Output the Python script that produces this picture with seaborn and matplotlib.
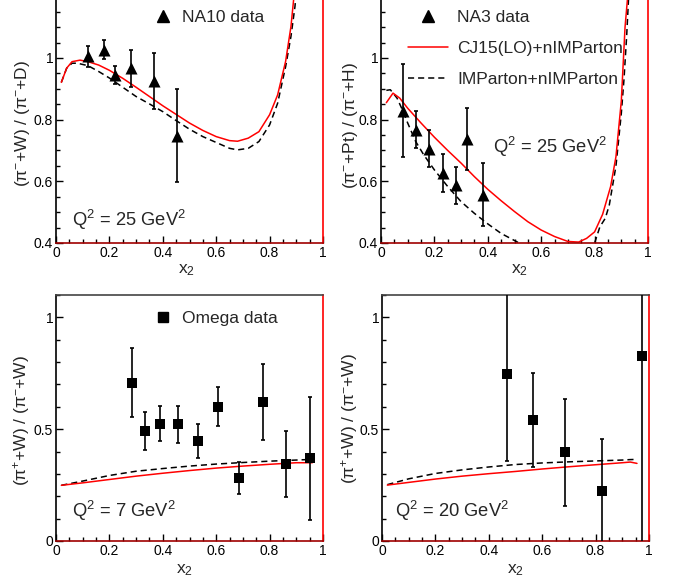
import numpy as np
import pandas as pd
import matplotlib
matplotlib.use("Agg")
import matplotlib.pyplot as plt
from matplotlib.ticker import MultipleLocator, FormatStrFormatter
from matplotlib.lines import Line2D
import seaborn as sns

# ---------------- data ----------------
# NA10: pi- W / pi- D
na10_x = [0.121, 0.181, 0.221, 0.281, 0.368, 0.453]
na10_y = [1.005, 1.027, 0.945, 0.967, 0.926, 0.748]
na10_err = [0.035, 0.030, 0.030, 0.060, 0.090, 0.150]

# NA3: pi- Pt / pi- H
na3_x = [0.081, 0.131, 0.180, 0.231, 0.281, 0.322, 0.383]
na3_y = [0.829, 0.767, 0.705, 0.626, 0.587, 0.737, 0.557]
na3_err = [0.150, 0.060, 0.060, 0.062, 0.060, 0.100, 0.102]

# Omega: pi+ W / pi- W at Q^2 = 7 and 20 GeV^2
om7_x = [0.286, 0.335, 0.391, 0.458, 0.531, 0.608, 0.687, 0.774, 0.861, 0.951]
om7_y = [0.708, 0.491, 0.525, 0.521, 0.445, 0.600, 0.280, 0.622, 0.345, 0.369]
om7_err = [0.153, 0.086, 0.078, 0.082, 0.076, 0.088, 0.072, 0.170, 0.147, 0.275]

om20_x = [0.467, 0.566, 0.687, 0.823, 0.974]
om20_y = [0.747, 0.540, 0.396, 0.222, 0.829]
om20_err = [0.390, 0.210, 0.240, 0.235, 1.000]

# model curves: CJ15(LO)+nIMParton (red) and IMParton+nIMParton (dashed)
c1_x = [0.02, 0.04, 0.06, 0.09, 0.12, 0.16, 0.20, 0.25, 0.30, 0.35, 0.40, 0.45,
        0.50, 0.55, 0.60, 0.65, 0.68, 0.72, 0.76, 0.80, 0.83, 0.86, 0.88, 0.89, 0.90]
c1_red = [0.921, 0.967, 0.988, 0.993, 0.988, 0.977, 0.960, 0.934, 0.905, 0.875, 0.845, 0.817,
          0.789, 0.765, 0.745, 0.732, 0.730, 0.740, 0.761, 0.816, 0.880, 0.989, 1.102, 1.189, 1.300]
d1_x = [0.02, 0.04, 0.06, 0.08, 0.12, 0.16, 0.20, 0.25, 0.30, 0.35, 0.40, 0.45,
        0.50, 0.55, 0.60, 0.65, 0.68, 0.72, 0.76, 0.80, 0.83, 0.86, 0.88, 0.895, 0.905]
d1_blk = [0.921, 0.967, 0.983, 0.983, 0.975, 0.956, 0.935, 0.905, 0.875, 0.851, 0.826, 0.797,
          0.769, 0.745, 0.726, 0.707, 0.702, 0.707, 0.729, 0.783, 0.853, 0.972, 1.070, 1.167, 1.260]

c2_x = [0.02, 0.045, 0.07, 0.10, 0.15, 0.20, 0.25, 0.30, 0.35, 0.40, 0.45, 0.50, 0.55,
        0.60, 0.65, 0.70, 0.74, 0.77, 0.80, 0.83, 0.86, 0.88, 0.90, 0.914, 0.923, 0.935]
c2_red = [0.855, 0.886, 0.870, 0.837, 0.789, 0.743, 0.700, 0.659, 0.615, 0.574, 0.537, 0.502, 0.469,
          0.442, 0.421, 0.405, 0.403, 0.415, 0.436, 0.493, 0.583, 0.680, 0.860, 1.100, 1.190, 1.300]
d2_x = [0.02, 0.035, 0.06, 0.08, 0.10, 0.13, 0.16, 0.20, 0.25, 0.30, 0.35, 0.40, 0.45, 0.50,
        0.55, 0.60, 0.65, 0.70, 0.75, 0.80, 0.82, 0.84, 0.855, 0.88, 0.90, 0.91, 0.92, 0.927, 0.94]
d2_blk = [0.895, 0.897, 0.870, 0.832, 0.789, 0.729, 0.686, 0.637, 0.583, 0.534, 0.496, 0.462, 0.431, 0.408,
          0.385, 0.365, 0.352, 0.350, 0.365, 0.400, 0.453, 0.480, 0.523, 0.650, 0.820, 0.930, 1.070, 1.190, 1.350]

c3_x = [0.02, 0.10, 0.20, 0.30, 0.40, 0.50, 0.60, 0.70, 0.80, 0.90, 0.96]
c3_red = [0.249, 0.260, 0.275, 0.290, 0.303, 0.315, 0.326, 0.335, 0.343, 0.350, 0.350]
c3_blk = [0.249, 0.268, 0.293, 0.312, 0.324, 0.335, 0.344, 0.351, 0.357, 0.362, 0.365]

c4_x = [0.02, 0.10, 0.20, 0.30, 0.40, 0.50, 0.60, 0.70, 0.80, 0.90, 0.93, 0.955]
c4_red = [0.250, 0.262, 0.277, 0.290, 0.301, 0.311, 0.322, 0.332, 0.341, 0.350, 0.353, 0.347]
c4_blk = [0.252, 0.278, 0.302, 0.318, 0.331, 0.342, 0.349, 0.354, 0.358, 0.362, 0.364, 0.365]

x_ticks = [0, 0.2, 0.4, 0.6, 0.8, 1]

# ---------------- style ----------------
sns.set_theme(style="ticks")
plt.rcParams["font.family"] = ["Liberation Sans", "DejaVu Sans"]
plt.rcParams["mathtext.fontset"] = "custom"
plt.rcParams["mathtext.rm"] = "Liberation Sans"
plt.rcParams["mathtext.it"] = "Liberation Sans"
plt.rcParams["mathtext.default"] = "rm"

RED = "#ff0000"
DASH = (0, (4.0, 2.6))
LBL = 12.5
TCK = 10.0

fig = plt.figure(figsize=(6.81, 5.83), dpi=100)
W, H = 681.0, 583.0


def make_ax(left_px, top_px, bottom_px, right_px):
    return fig.add_axes([left_px / W, 1 - bottom_px / H,
                         (right_px - left_px) / W, (bottom_px - top_px) / H])


ax1 = make_ax(56, 0, 243, 323)
ax2 = make_ax(381, 0, 243, 648)
ax3 = make_ax(56, 295, 541, 323)
ax4 = make_ax(382, 295, 541, 649)


def style_axes(ax, ylim, ymajor, yminor, top_visible):
    ax.set_xlim(0, 1)
    ax.set_ylim(*ylim)
    ax.set_xticks(x_ticks)
    ax.xaxis.set_minor_locator(MultipleLocator(0.05))
    ax.yaxis.set_major_locator(MultipleLocator(ymajor))
    ax.yaxis.set_minor_locator(MultipleLocator(yminor))
    ax.xaxis.set_major_formatter(FormatStrFormatter("%g"))
    ax.yaxis.set_major_formatter(FormatStrFormatter("%g"))
    ax.tick_params(which="both", direction="in", top=False, right=False,
                   colors="black", width=1.0, labelsize=TCK)
    ax.tick_params(which="major", length=5)
    ax.tick_params(which="minor", length=2.6)
    ax.tick_params(axis="x", which="major", pad=2.5)
    ax.tick_params(axis="y", which="major", pad=2.0)
    for s in ax.spines.values():
        s.set_linewidth(1.2)
    ax.spines["left"].set_color("black")
    ax.spines["bottom"].set_color("#a00000")
    ax.spines["right"].set_color(RED)
    ax.spines["right"].set_visible(True)
    ax.spines["top"].set_visible(top_visible)
    ax.spines["top"].set_color("#444444")
    ax.set_facecolor("white")


style_axes(ax1, (0.4, 1.188), 0.2, 0.05, False)
style_axes(ax2, (0.4, 1.188), 0.2, 0.05, False)
style_axes(ax3, (0.0, 1.1), 0.5, 0.1, True)
style_axes(ax4, (0.0, 1.1), 0.5, 0.1, True)


def curves(ax, xr, yr, xb, yb):
    sns.lineplot(data=pd.DataFrame({"x": xb, "y": yb}), x="x", y="y", ax=ax,
                 color="black", linewidth=1.1, linestyle=DASH, sort=False,
                 estimator=None, legend=False)
    sns.lineplot(data=pd.DataFrame({"x": xr, "y": yr}), x="x", y="y", ax=ax,
                 color=RED, linewidth=1.1, sort=False, estimator=None, legend=False)


def points(ax, x, y, err, marker, size):
    ax.errorbar(x, y, yerr=err, fmt="none", ecolor="black", elinewidth=1.2,
                capsize=1.6, capthick=1.2, zorder=3)
    sns.scatterplot(x=x, y=y, ax=ax, marker=marker, s=size, color="black",
                    edgecolor="black", linewidth=0, zorder=4, legend=False)


curves(ax1, c1_x, c1_red, d1_x, d1_blk)
points(ax1, na10_x, na10_y, na10_err, "^", 75)

curves(ax2, c2_x, c2_red, d2_x, d2_blk)
points(ax2, na3_x, na3_y, na3_err, "^", 75)

curves(ax3, c3_x, c3_red, c3_x, c3_blk)
points(ax3, om7_x, om7_y, om7_err, "s", 46)

curves(ax4, c4_x, c4_red, c4_x, c4_blk)
points(ax4, om20_x, om20_y, om20_err, "s", 46)

# axis titles
ylabels = [
    (ax1, "(π$^{-}$+W) / (π$^{-}$+D)", -0.090, 0.753),
    (ax2, "(π$^{-}$+Pt) / (π$^{-}$+H)", -0.079, 0.745),
    (ax3, "(π$^{+}$+W) / (π$^{-}$+W)", -0.090, 0.756),
    (ax4, "(π$^{+}$+W) / (π$^{-}$+W)", -0.082, 0.764),
]
for ax, txt, lx, ly in ylabels:
    ax.set_ylabel(txt, fontsize=LBL, loc="top")
    ax.yaxis.set_label_coords(lx, ly)

xlabels = [(ax1, 0.49, -0.078), (ax2, 0.52, -0.078), (ax3, 0.483, -0.085), (ax4, 0.50, -0.085)]
for ax, lx, ly in xlabels:
    ax.set_xlabel("x$_{2}$", fontsize=LBL)
    ax.xaxis.set_label_coords(lx, ly)

# Q^2 annotations
for ax, txt, tx, ty in [(ax1, "Q$^{2}$ = 25 GeV$^{2}$", 0.060, 0.070),
                        (ax2, "Q$^{2}$ = 25 GeV$^{2}$", 0.419, 0.370),
                        (ax3, "Q$^{2}$ = 7 GeV$^{2}$", 0.060, 0.098),
                        (ax4, "Q$^{2}$ = 20 GeV$^{2}$", 0.049, 0.098)]:
    ax.text(tx, ty, txt, transform=ax.transAxes, fontsize=13.2,
            ha="left", va="baseline")

# legends
tri = Line2D([], [], color="black", marker="^", markersize=8.5, linestyle="none")
sq = Line2D([], [], color="black", marker="s", markersize=6.8, linestyle="none")
red_line = Line2D([], [], color=RED, linewidth=1.1)
dash_line = Line2D([], [], color="black", linewidth=1.1, linestyle=DASH)

ax1.legend([tri], ["NA10 data"], loc="center left", bbox_to_anchor=(0.362, 0.930),
           frameon=False, fontsize=LBL, handlelength=1.2, handletextpad=0.5,
           borderpad=0, borderaxespad=0, numpoints=1)
ax2.legend([tri, red_line, dash_line],
           ["NA3 data", "CJ15(LO)+nIMParton", "IMParton+nIMParton"],
           loc="center left", bbox_to_anchor=(0.101, 0.80), frameon=False,
           fontsize=LBL, handlelength=2.3, handletextpad=0.52, labelspacing=0.92,
           borderpad=0, borderaxespad=0, numpoints=1)
ax3.legend([sq], ["Omega data"], loc="center left", bbox_to_anchor=(0.362, 0.9065),
           frameon=False, fontsize=LBL, handlelength=1.2, handletextpad=0.5,
           borderpad=0, borderaxespad=0, numpoints=1)

fig.savefig("out.png", dpi=100, facecolor="white")
